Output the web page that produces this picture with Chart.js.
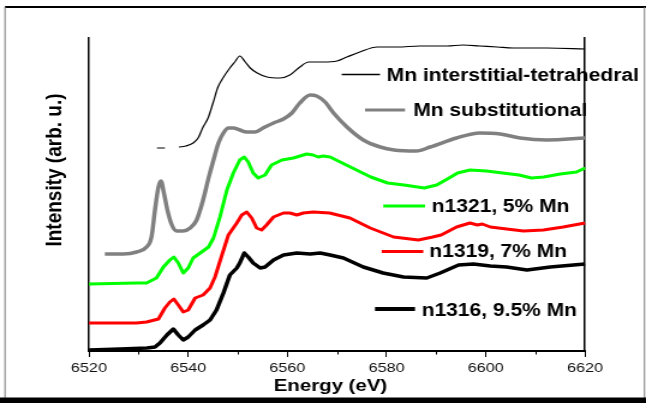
<!DOCTYPE html>
<html>
<head>
<meta charset="utf-8">
<script src="https://cdn.jsdelivr.net/npm/chart.js@4.4.1/dist/chart.umd.min.js"></script>
<style>
  html, body { margin: 0; padding: 0; background: #fff; overflow: hidden; }
  #wrap { width: 538px; height: 403px; transform: scaleX(1.200743); transform-origin: 0 0; }
  canvas { display: block; }
</style>
</head>
<body>
<div id="wrap"><canvas id="c" width="538" height="403"></canvas></div>
<script>
// ---- data (energy in eV, intensity in arbitrary units, curves vertically offset) ----
const seriesLabels = ['Mn interstitial-tetrahedral', 'Mn substitutional', 'n1321, 5% Mn', 'n1319, 7% Mn', 'n1316, 9.5% Mn'];
const xTickValues = [6520, 6540, 6560, 6580, 6600, 6620];
const xMinorTicks = [6530, 6550, 6570, 6590, 6610];
const xTitle = 'Energy (eV)';
const yTitle = 'Intensity (arb. u.)';

const energyInterstitial = [6533.7, 6535.3, 6536.7, 6538.1, 6539.5, 6541.0, 6542.0, 6543.0, 6544.0, 6545.0, 6546.0, 6547.0, 6548.4, 6549.4, 6550.4, 6551.5, 6552.5, 6553.9, 6555.9, 6558.5, 6560.5, 6562.5, 6564.3, 6567.2, 6570.0, 6572.0, 6574.6, 6578.1, 6582.1, 6586.7, 6592.2, 6595.4, 6598.8, 6602.3, 6605.5, 6612.3, 6620];
const intensityInterstitial = [203, 203, null, 204, 205, 208, 213, 224, 233, 248, 264, 273, 283, 289, 295, 289, 283, 278, 274, 273, 276, 284, 289, 289, 290, 294, 299, 304, 304, 305, 305, 306, 305, 304, 303, 303, 302];

const energySubst = [6523.2, 6526.9, 6529.6, 6531.6, 6532.6, 6533.3, 6534.0, 6534.5, 6535.1, 6535.8, 6536.7, 6537.7, 6539.0, 6540.4, 6541.7, 6543.0, 6544.1, 6545.1, 6546.1, 6547.1, 6548.1, 6549.1, 6550.4, 6551.8, 6553.5, 6555.1, 6557.2, 6559.2, 6560.9, 6562.5, 6564.6, 6565.9, 6567.6, 6569.3, 6572.0, 6575.3, 6578.7, 6581.5, 6586.0, 6588.8, 6594.1, 6598.8, 6602.9, 6606.9, 6612.3, 6620];
const intensitySubst = [97, 97, 99, 104, 114, 141, 164, 170, 158, 141, 126, 120, 120, 123, 131, 151, 173, 191, 208, 218, 223, 223, 221, 219, 219, 223, 228, 232, 238, 248, 256, 255, 249, 238, 224, 211, 204, 201, 200, 204, 213, 218, 217, 213, 211, 213];

const energyN1321 = [6520, 6529.6, 6531.6, 6533.6, 6535.0, 6536.3, 6537.1, 6538.0, 6539.0, 6540.0, 6541.0, 6542.7, 6544.1, 6545.1, 6546.4, 6547.8, 6549.1, 6550.4, 6551.3, 6552.1, 6553.1, 6554.1, 6555.5, 6556.8, 6558.9, 6561.2, 6563.9, 6565.2, 6566.2, 6567.2, 6568.6, 6572.7, 6576.8, 6580.2, 6583.5, 6587.6, 6590.1, 6592.6, 6594.3, 6596.8, 6600.1, 6603.4, 6606.7, 6609.2, 6611.7, 6615.0, 6618.3, 6620];
const intensityN1321 = [67, 68, 68, 73, 84, 91, 94, 88, 78, 83, 93, 99, 104, 113, 134, 161, 178, 191, 194, 189, 178, 173, 176, 186, 191, 193, 197, 196, 194, 195, 194, 184, 174, 168, 166, 163, 166, 173, 178, 181, 180, 178, 176, 173, 174, 177, 179, 183];

const energyN1319 = [6520, 6529.6, 6531.6, 6534.0, 6535.3, 6536.3, 6537.1, 6538.0, 6539.0, 6540.0, 6541.4, 6543.0, 6544.4, 6545.4, 6546.8, 6548.1, 6549.8, 6550.8, 6551.8, 6552.8, 6553.8, 6554.8, 6555.8, 6557.2, 6559.2, 6560.5, 6561.9, 6563.2, 6565.2, 6568.5, 6572.6, 6576.7, 6581.4, 6586.4, 6589.3, 6591.0, 6594.1, 6596.8, 6598.3, 6599.3, 6600.9, 6604.2, 6607.6, 6611.6, 6615.6, 6620];
const intensityN1319 = [28, 28, 29, 32, 43, 49, 52, 46, 39, 41, 53, 56, 63, 74, 96, 116, 128, 136, 139, 133, 123, 121, 126, 134, 138, 138, 136, 138, 139, 138, 133, 123, 114, 111, 114, 116, 124, 128, 126, 127, 124, 122, 120, 121, 124, 128];

const energyN1316 = [6520, 6526.3, 6531.7, 6533.3, 6534.3, 6535.7, 6537.0, 6538.0, 6539.0, 6540.0, 6541.4, 6543.0, 6544.4, 6545.7, 6547.1, 6548.4, 6549.8, 6550.4, 6551.3, 6552.1, 6553.1, 6554.5, 6555.5, 6557.2, 6559.2, 6561.9, 6564.6, 6566.6, 6568.6, 6571.3, 6575.3, 6579.3, 6583.4, 6588.1, 6590.8, 6594.5, 6597.5, 6600.9, 6604.2, 6608.3, 6613.0, 6620];
const intensityN1316 = [1, 2, 3, 4, 8, 16, 22, 16, 11, 14, 21, 26, 31, 41, 58, 76, 83, 88, 98, 94, 88, 83, 84, 91, 96, 98, 97, 98, 96, 93, 84, 78, 74, 73, 78, 86, 87, 85, 84, 81, 84, 87];

// ---- build chart ----
const S = 646 / 538; // horizontal stretch of the whole figure
const FONT = "'Liberation Sans', Arial, Helvetica, sans-serif";
const zip = (xs, ys) => xs.map((x, i) => ({ x: x, y: ys[i] }));

const styles = [
  { color: '#000000', width: 1.2, smooth: true,  legend: { x0: 341.7, x1: 380, y: 74.5, tx: 386.7, base: 81,    lw: 1.6 } },
  { color: '#808080', width: 3.5, smooth: true,  legend: { x0: 365,   x1: 405, y: 110,  tx: 413.3, base: 116,   lw: 3 } },
  { color: '#00ff00', width: 3,   smooth: false, legend: { x0: 383.3, x1: 425, y: 206,  tx: 431.7, base: 212,   lw: 3 } },
  { color: '#ff0000', width: 3,   smooth: false, legend: { x0: 381.7, x1: 423.3, y: 251.5, tx: 429.3, base: 257.3, lw: 3 } },
  { color: '#000000', width: 3.5, smooth: false, legend: { x0: 375,   x1: 415, y: 309,  tx: 421.7, base: 315.7, lw: 4 } }
];
const seriesData = [
  zip(energyInterstitial, intensityInterstitial),
  zip(energySubst, intensitySubst),
  zip(energyN1321, intensityN1321),
  zip(energyN1319, intensityN1319),
  zip(energyN1316, intensityN1316)
];

const datasets = seriesData.map((d, i) => ({
  label: seriesLabels[i],
  data: d,
  borderColor: styles[i].color,
  backgroundColor: styles[i].color,
  borderWidth: styles[i].width,
  pointRadius: 0,
  fill: false,
  spanGaps: false,
  clip: false,
  cubicInterpolationMode: styles[i].smooth ? 'monotone' : 'default',
  tension: styles[i].smooth ? 0.4 : 0,
  borderJoinStyle: 'round',
  borderCapStyle: 'butt'
}));

const decor = {
  id: 'decor',
  beforeDraw(chart) {
    const ctx = chart.ctx;
    ctx.save();
    ctx.fillStyle = '#ffffff';
    ctx.fillRect(0, 0, chart.width, chart.height);
    ctx.restore();
  },
  afterDraw(chart) {
    const ctx = chart.ctx;
    const xs = chart.scales.x;
    const area = chart.chartArea;
    ctx.save();
    // outer frame
    ctx.strokeStyle = '#000'; ctx.lineWidth = 2;
    ctx.beginPath(); ctx.moveTo(5 / S, 7); ctx.lineTo(chart.width, 7); ctx.stroke();
    ctx.strokeStyle = '#777'; ctx.lineWidth = 1;
    ctx.beginPath(); ctx.moveTo(5 / S, 7); ctx.lineTo(5 / S, 398); ctx.stroke();
    ctx.beginPath(); ctx.moveTo(644.5 / S, 7); ctx.lineTo(644.5 / S, 398); ctx.stroke();
    ctx.fillStyle = '#000';
    ctx.fillRect(0, 397.5, chart.width, 6);
    // minor ticks
    ctx.strokeStyle = '#000'; ctx.lineWidth = 1;
    xMinorTicks.forEach(v => {
      const px = Math.round(xs.getPixelForValue(v)) + 0.5;
      ctx.beginPath(); ctx.moveTo(px, area.bottom); ctx.lineTo(px, area.bottom + 3.5); ctx.stroke();
    });
    // axis titles
    ctx.fillStyle = '#000';
    ctx.font = 'bold 17px ' + FONT;
    ctx.textAlign = 'center'; ctx.textBaseline = 'alphabetic';
    ctx.fillText(xTitle, 330.5 / S, 391);
    ctx.save();
    ctx.translate(61.7 / S, 170);
    ctx.rotate(-Math.PI / 2);
    ctx.font = 'bold 19px ' + FONT;
    ctx.fillText(yTitle, 0, 0);
    ctx.restore();
    // legend
    ctx.font = 'bold 17.5px ' + FONT;
    ctx.textAlign = 'left';
    chart.data.datasets.forEach((ds, i) => {
      const L = styles[i].legend;
      ctx.strokeStyle = ds.borderColor; ctx.lineWidth = L.lw;
      ctx.beginPath(); ctx.moveTo(L.x0 / S, L.y); ctx.lineTo(L.x1 / S, L.y); ctx.stroke();
      ctx.fillStyle = '#000';
      ctx.fillText(ds.label, L.tx / S, L.base);
    });
    ctx.restore();
  }
};

new Chart(document.getElementById('c'), {
  type: 'line',
  data: { datasets: datasets },
  options: {
    responsive: false,
    animation: false,
    devicePixelRatio: 1,
    layout: { padding: { left: 0, right: 0, top: 38, bottom: 0 } },
    plugins: { legend: { display: false }, tooltip: { enabled: false } },
    scales: {
      x: {
        type: 'linear',
        position: 'bottom',
        min: 6520, max: 6620,
        afterBuildTicks: (s) => { s.ticks = xTickValues.map(v => ({ value: v })); },
        ticks: { color: '#111', font: { family: FONT, size: 13.5 }, padding: 3, maxRotation: 0, autoSkip: false, callback: (v) => String(v) },
        grid: { display: true, drawOnChartArea: false, drawTicks: true, tickLength: 6, color: '#000', lineWidth: 1 },
        border: { display: true, color: '#000', width: 2 },
        afterFit: (s) => { s.height = 52; }
      },
      y: {
        type: 'linear',
        position: 'left',
        min: 0, max: 313,
        ticks: { display: false },
        grid: { display: false, drawTicks: false },
        border: { display: true, color: '#000', width: 1.5 },
        afterFit: (s) => { s.width = 89 / S; }
      },
      y2: {
        type: 'linear',
        position: 'right',
        min: 0, max: 313,
        ticks: { display: false },
        grid: { display: false, drawTicks: false },
        border: { display: true, color: '#000', width: 1.5 },
        afterFit: (s) => { s.width = 538 - 585 / S; }
      }
    }
  },
  plugins: [decor]
});
</script>
</body>
</html>
